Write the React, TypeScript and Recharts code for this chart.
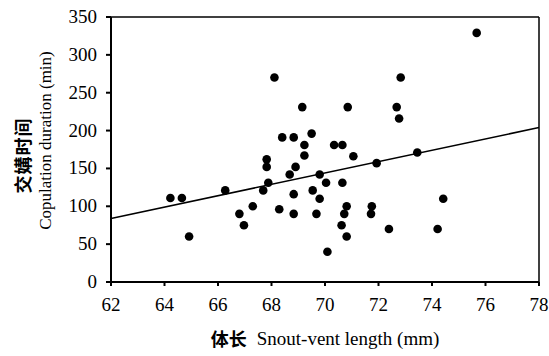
import React from 'react';
import {
  ScatterChart,
  Scatter,
  XAxis,
  YAxis,
  ReferenceLine,
  Label
} from 'recharts';

// snout-vent length (mm) and copulation duration (min)
const svl = [
  64.22, 64.65, 64.92, 66.27, 66.8, 66.97, 67.3, 67.69, 67.82, 67.82, 67.88,
  68.11, 68.29, 68.4, 68.68, 68.83, 68.83, 68.83, 68.9, 69.15, 69.23, 69.23,
  69.5, 69.54, 69.68, 69.8, 69.8, 70.04, 70.09, 70.34, 70.65, 70.65, 70.85,
  70.81, 70.72, 70.62, 70.81, 71.06, 71.75, 71.72, 71.93, 72.39, 72.68, 72.77,
  72.83, 73.45, 74.21, 74.42, 75.67
];
const duration = [
  111, 111, 60, 121, 90, 75, 100, 121, 162, 152, 131, 270, 96, 191, 142, 191,
  116, 90, 152, 231, 181, 167, 196, 121, 90, 142, 110, 131, 40, 181, 181, 131,
  231, 100, 90, 75, 60, 166, 100, 90, 157, 70, 231, 216, 270, 171, 70, 110, 329
];

// fitted line end points
const fitX = [62, 78];
const fitY = [84, 204];

const xTicks = [62, 64, 66, 68, 70, 72, 74, 76, 78];
const yTicks = [0, 50, 100, 150, 200, 250, 300, 350];

const points = svl.map((x, i) => ({ x, y: duration[i] }));

const serif = '"Liberation Serif", "Times New Roman", serif';
const cjk = '"Noto Sans CJK SC", sans-serif';

const Dot = (p: any) => <circle cx={p.cx} cy={p.cy} r={4.3} fill="#000" />;

const xTick = (p: any) => (
  <text
    x={p.x}
    y={p.y + 25}
    textAnchor="middle"
    style={{ fontFamily: serif, fontSize: 19 }}
    fill="#000"
  >
    {p.payload.value}
  </text>
);

const yTick = (p: any) => (
  <text
    x={p.x}
    y={p.y + 6}
    textAnchor="end"
    style={{ fontFamily: serif, fontSize: 19 }}
    fill="#000"
  >
    {p.payload.value}
  </text>
);

const YTitle = ({ viewBox }: any) => {
  const cy = viewBox.y + viewBox.height / 2;
  return (
    <g>
      <text
        x={22}
        y={cy + 6}
        transform={`rotate(-90, 22, ${cy + 6})`}
        textAnchor="middle"
        dominantBaseline="central"
        style={{ fontFamily: cjk, fontWeight: 600, fontSize: 18, letterSpacing: 1 }}
        fill="#000"
      >
        交媾时间
      </text>
      <text
        x={45}
        y={cy - 9}
        transform={`rotate(-90, 45, ${cy - 9})`}
        textAnchor="middle"
        dominantBaseline="central"
        style={{ fontFamily: serif, fontSize: 17 }}
        fill="#000"
      >
        Copulation duration (min)
      </text>
    </g>
  );
};

const XTitle = ({ viewBox }: any) => {
  const cx = viewBox.x + viewBox.width / 2;
  return (
    <text x={cx} y={338} textAnchor="middle" dominantBaseline="central" fill="#000">
      <tspan style={{ fontFamily: cjk, fontWeight: 600, fontSize: 18 }}>体长</tspan>
      <tspan style={{ fontFamily: serif, fontSize: 19 }} dx={10}>
        Snout-vent length (mm)
      </tspan>
    </text>
  );
};

export default function App() {
  return (
    <div
      style={{
        position: 'absolute',
        left: 0,
        top: 0,
        background: '#fff',
        fontFamily: serif
      }}
    >
      <ScatterChart
        width={549}
        height={356}
        margin={{ top: 17, right: 10, left: 0, bottom: 0 }}
      >
        <XAxis
          type="number"
          dataKey="x"
          domain={[62, 78]}
          ticks={xTicks}
          interval={0}
          height={74}
          stroke="#000"
          strokeWidth={2}
          tickSize={4}
          tickMargin={0}
          tick={xTick}
        >
          <Label content={<XTitle />} />
        </XAxis>
        <YAxis
          type="number"
          dataKey="y"
          domain={[0, 350]}
          ticks={yTicks}
          interval={0}
          width={111}
          stroke="#000"
          strokeWidth={2}
          tickSize={5}
          tickMargin={9}
          tick={yTick}
        >
          <Label content={<YTitle />} />
        </YAxis>
        <ReferenceLine y={350} stroke="#000" strokeWidth={1.5} />
        <ReferenceLine x={78} stroke="#000" strokeWidth={1.5} />
        <ReferenceLine
          segment={[
            { x: fitX[0], y: fitY[0] },
            { x: fitX[1], y: fitY[1] }
          ]}
          stroke="#000"
          strokeWidth={1.5}
        />
        <Scatter data={points} shape={Dot} isAnimationActive={false} />
      </ScatterChart>
    </div>
  );
}
